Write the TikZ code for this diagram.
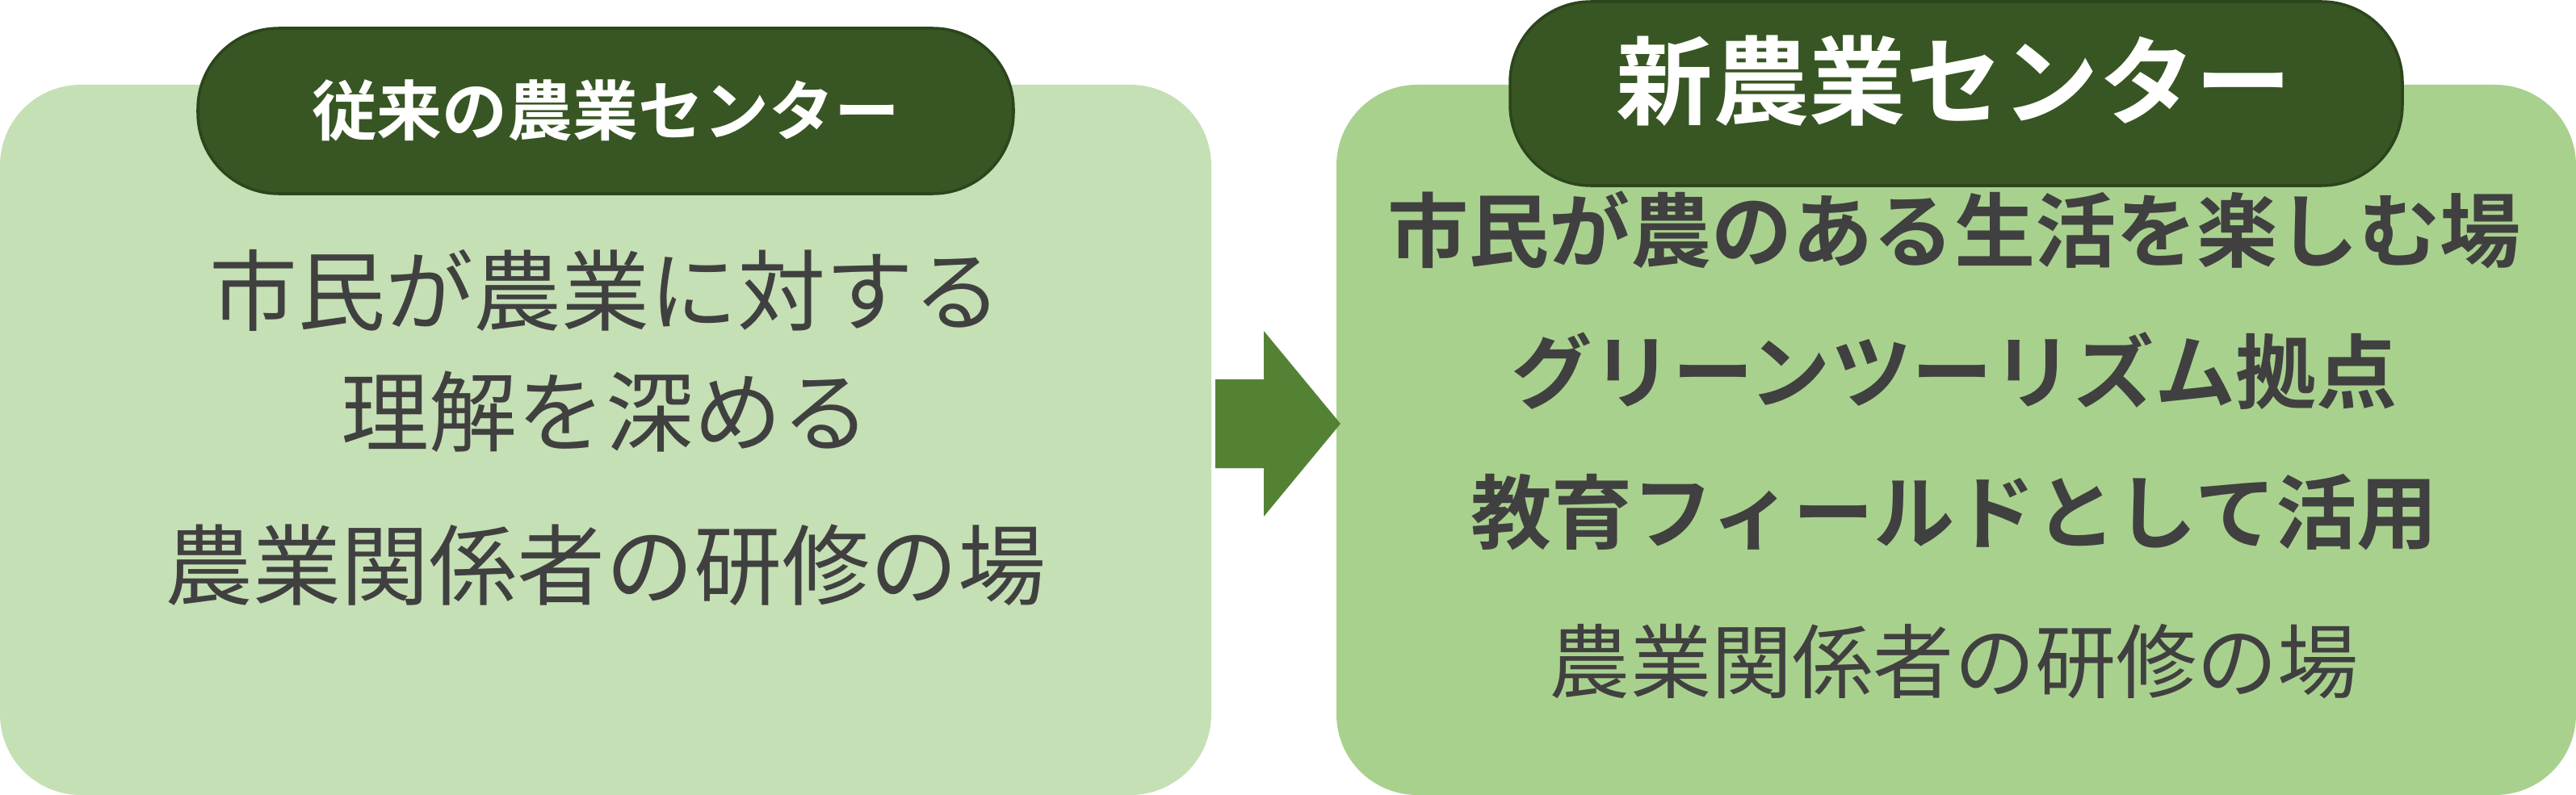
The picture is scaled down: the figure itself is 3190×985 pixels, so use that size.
\documentclass[tikz,border=0pt]{standalone}
\usepackage{fontspec}
\setmainfont{Noto Sans CJK JP}
\newfontfamily\jpb{Noto Sans CJK JP Bold}
\definecolor{lightg}{HTML}{C5E0B4}
\definecolor{midg}{HTML}{A9D18E}
\definecolor{darkg}{HTML}{375623}
\definecolor{arrg}{HTML}{548235}
\definecolor{txt}{HTML}{404040}
\begin{document}
\begin{tikzpicture}[x=0.01cm,y=-0.01cm,
  pill/.style={fill=darkg,draw=darkg!80!black,line width=1pt,rounded corners=100*0.01cm},
  ltxt/.style={text=txt,font=\fontsize{31}{36}\selectfont,inner sep=0},
  rtxt/.style={text=txt,font=\jpb\fontsize{28.5}{33}\selectfont,inner sep=0},
  rtxtn/.style={text=txt,font=\fontsize{28.5}{33}\selectfont,inner sep=0}]
\useasboundingbox (0,0) rectangle (3190,985);
\fill[lightg,rounded corners=1cm] (0,105) rectangle (1500,985);
\fill[midg,rounded corners=1cm] (1655,105) rectangle (3190,985);
\fill[arrg] (1505,470) -- (1565,470) -- (1565,410) -- (1660,525) -- (1565,640) -- (1565,580) -- (1505,580) -- cycle;
\path[pill] (245,35) rectangle (1255,240);
\node[text=white,font=\jpb\fontsize{23}{28}\selectfont] (h1) at (750,137) {従来の農業センター};
\path[pill] (1870,2) rectangle (2975,230);
\node[text=white,font=\jpb\fontsize{34}{40}\selectfont] (h2) at (2420,100) {新農業センター};
\node[ltxt] (l1) at (750,360) {市民が農業に対する};
\node[ltxt] (l2) at (750,510) {理解を深める};
\node[ltxt] (l3) at (750,700) {農業関係者の研修の場};
\node[rtxt] (r1) at (2420,285) {市民が農のある生活を楽しむ場};
\node[rtxt] (r2) at (2420,460) {グリーンツーリズム拠点};
\node[rtxt] (r3) at (2420,635) {教育フィールドとして活用};
\node[rtxtn] (r4) at (2420,820) {農業関係者の研修の場};
\end{tikzpicture}
\end{document}
